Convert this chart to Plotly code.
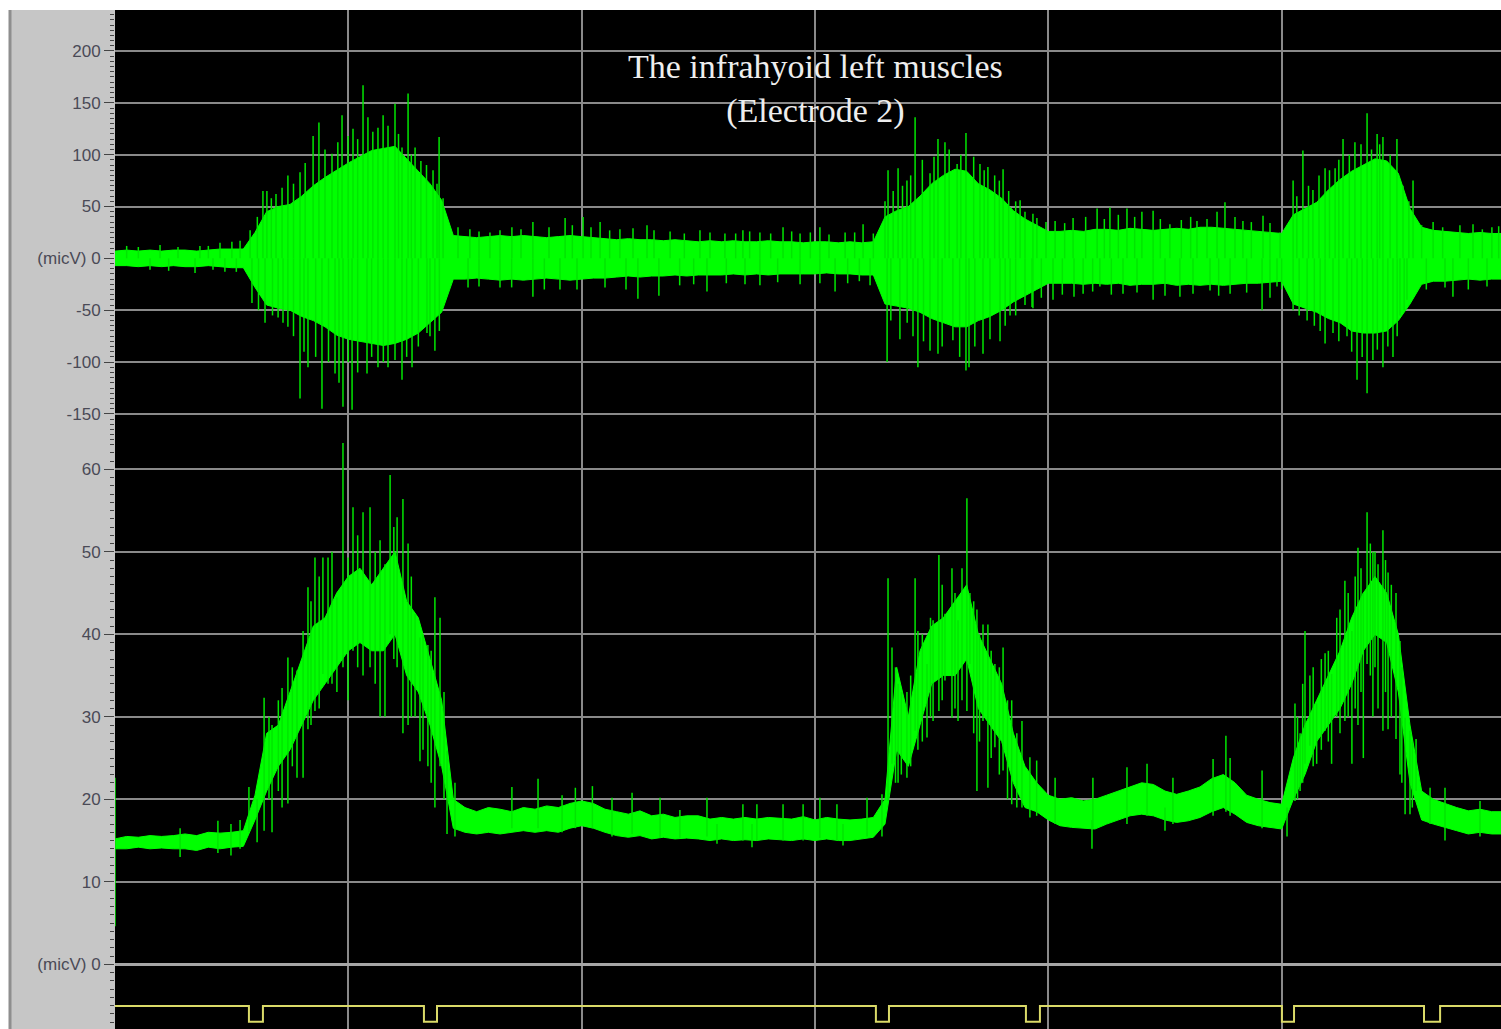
import numpy as np
import plotly.graph_objects as go

# ---------------- data ----------------
bin_step = 0.05  # seconds per envelope bin
n_bins = 120

# raw EMG (top panel): dense core band, upper/lower edge per bin (micV)
top_hi = [7, 8, 7, 8, 7, 8, 8, 7, 8, 9, 9, 9,
          25, 45, 50, 52, 60, 70, 78, 85, 92, 98, 104, 106, 108, 96, 84, 72, 56,
          22, 21, 20, 21, 22, 21, 22, 21, 20, 21,
          22, 21, 20, 19, 18, 19, 18, 18, 17, 18,
          17, 16, 17, 16, 17, 16, 16, 17, 16, 16,
          15, 16, 16, 15, 16, 15, 16,
          40, 46, 50, 60, 72, 80, 86, 84, 72, 66, 58, 46, 38, 32, 26,
          26, 27, 26, 28, 28, 27, 29, 28, 27, 28, 29, 28, 30, 30, 29, 28, 27, 26, 25, 24,
          42, 48, 54, 66, 76, 84, 90, 96, 94, 82, 48, 30, 27, 26, 25, 24, 25, 24, 24]
top_lo = [-7, -7, -8, -7, -8, -7, -8, -8, -7, -8, -9, -9,
          -28, -45, -48, -50, -56, -60, -66, -74, -78, -80, -82, -84, -82, -78, -72, -62, -52,
          -20, -20, -19, -20, -21, -20, -21, -20, -19, -20,
          -21, -20, -19, -19, -18, -17, -18, -17, -17, -16,
          -17, -16, -16, -16, -15, -16, -15, -16, -15, -15,
          -15, -15, -14, -15, -15, -16, -16,
          -44, -46, -48, -52, -58, -62, -66, -66, -60, -56, -50, -42, -36, -30, -24,
          -24, -24, -25, -24, -25, -24, -26, -25, -25, -24, -26, -25, -26, -25, -26, -25, -24, -24, -23, -22,
          -44, -48, -52, -58, -62, -70, -72, -72, -70, -60, -44, -25, -22, -22, -21, -20, -21, -20, -20]

# raw EMG individual spikes (time s, peak micV)
spike_t = [0.193, 0.364, 0.450, 0.501, 0.536, 0.343, 0.471,
           0.050, 0.100, 0.270, 0.400, 0.150, 0.230, 0.420, 0.520,
           0.579, 0.634, 0.651, 0.716, 0.741, 0.793, 0.849, 0.874, 0.930, 0.973, 0.999, 1.063,
           1.084, 1.127, 1.149, 1.200, 1.230, 1.256, 1.286, 1.311, 1.363, 1.389, 1.406,
           0.610, 0.670, 0.690, 0.765, 0.815, 0.900, 0.955, 1.020, 1.040, 1.105, 1.170, 1.215,
           1.270, 1.335, 1.380,
           0.587, 0.643, 0.699, 0.741, 0.793, 0.827, 0.887, 0.943, 0.977, 1.016, 1.080, 1.127,
           1.170, 1.230, 1.273, 1.337, 1.371,
           0.615, 0.675, 0.720, 0.765, 0.810, 0.860, 0.915, 0.960, 1.000, 1.040, 1.100, 1.150,
           1.200, 1.250, 1.300, 1.350, 1.390,
           1.521, 1.607, 1.701, 1.791, 1.929, 2.006, 2.079, 2.164, 2.280, 2.379, 2.507, 2.614,
           2.691, 2.764, 2.863, 2.936, 3.021, 3.129, 3.206,
           1.470, 1.560, 1.650, 1.740, 1.860, 1.960, 2.040, 2.120, 2.220, 2.310, 2.440, 2.550,
           2.660, 2.720, 2.810, 2.900, 2.980, 3.060, 3.170, 3.250,
           1.513, 1.650, 1.791, 1.907, 1.980, 2.241, 2.331, 2.537, 2.764, 2.936, 3.021, 3.086, 3.236,
           1.560, 1.700, 1.840, 2.100, 2.190, 2.420, 2.480, 2.620, 2.700, 2.840, 3.140, 3.190,
           3.313, 3.356, 3.394, 3.429, 3.493, 3.527, 3.557, 3.609, 3.647, 3.707, 3.741, 3.806, 3.879, 3.934,
           3.300, 3.335, 3.375, 3.410, 3.460, 3.510, 3.575, 3.625, 3.680, 3.725, 3.770, 3.790,
           3.830, 3.860, 3.900,
           3.309, 3.364, 3.441, 3.493, 3.527, 3.591, 3.647, 3.660, 3.720, 3.793, 3.836, 3.934,
           3.325, 3.395, 3.420, 3.465, 3.545, 3.620, 3.685, 3.750, 3.815, 3.860, 3.900,
           3.951, 4.029, 4.106, 4.209, 4.264, 4.337, 4.401, 4.449, 4.521, 4.637, 4.723, 4.757, 4.834, 4.920, 4.993,
           3.990, 4.070, 4.160, 4.240, 4.300, 4.370, 4.480, 4.570, 4.610, 4.680, 4.800, 4.870, 4.950,
           3.930, 4.020, 4.149, 4.221, 4.320, 4.449, 4.564, 4.693, 4.779, 4.916, 4.980,
           3.970, 4.060, 4.110, 4.190, 4.270, 4.380, 4.500, 4.620, 4.730, 4.850, 4.950, 5.000,
           5.049, 5.091, 5.134, 5.186, 5.229, 5.263, 5.314, 5.366, 5.409, 5.434, 5.494, 5.563, 5.649, 5.764, 5.901,
           5.065, 5.115, 5.160, 5.205, 5.245, 5.290, 5.340, 5.385, 5.420, 5.465, 5.520, 5.545,
           5.600, 5.690, 5.820, 5.860, 5.930,
           5.049, 5.109, 5.186, 5.220, 5.280, 5.323, 5.366, 5.391, 5.434, 5.477, 5.507, 5.537, 5.734,
           5.075, 5.140, 5.165, 5.245, 5.300, 5.345, 5.410, 5.455, 5.495, 5.525,
           5.620, 5.700, 5.800, 5.880]
spike_v = [13, 12, 15, 16, 17, -14, -13,
           12, 11, 11, 12, -11, -12, -11, -13,
           27, 65, 65, 68, 80, 83, 118, 131, 101, 138, 118, 167,
           136, 126, 138, 149, 107, 159, 107, 94, 85, 117, 58,
           40, 58, 62, 72, 92, 105, 112, 125, 115, 122, 128, 120,
           100, 90, 72,
           -43, -62, -57, -66, -135, -105, -145, -111, -143, -146, -111, -105,
           -105, -117, -105, -72, -89,
           -50, -55, -62, -75, -90, -95, -100, -120, -100, -110, -95, -100,
           -98, -95, -85, -75, -70,
           28, 25, 30, 35, 39, 40, 35, 28, 32, 26, 27, 24,
           27, 25, 30, 24, 30, 25, 33,
           30, 26, 27, 28, 30, 32, 30, 27, 29, 27, 24, 25,
           24, 26, 24, 26, 25, 23, 25, 24,
           -28, -28, -37, -30, -30, -39, -36, -32, -26, -25, -24, -32, -26,
           -27, -28, -30, -28, -30, -26, -25, -24, -25, -23, -24, -22,
           85, 87, 75, 136, 82, 115, 112, 91, 121, 91, 88, 86, 56, 43,
           55, 65, 70, 80, 95, 98, 105, 100, 98, 85, 80, 75,
           65, 55, 45,
           -100, -78, -105, -89, -92, -79, -108, -105, -92, -80, -55, -48,
           -60, -62, -75, -80, -85, -95, -85, -78, -65, -55, -45,
           39, 36, 39, 48, 49, 48, 45, 46, 33, 36, 45, 54, 36, 41, 25,
           35, 34, 40, 38, 42, 40, 38, 37, 40, 38, 40, 35, 34,
           -47, -40, -34, -27, -34, -40, -37, -31, -34, -50, -27,
           -38, -35, -37, -32, -35, -33, -36, -34, -36, -33, -38, -30,
           75, 104, 66, 87, 87, 115, 112, 140, 120, 117, 115, 75, 35, 32, 30,
           60, 70, 80, 85, 95, 100, 110, 105, 110, 100, 70, 55,
           32, 30, 33, 28, 31,
           -50, -60, -82, -72, -75, -117, -130, -98, -105, -95, -55, -40, -37,
           -55, -65, -70, -80, -90, -95, -88, -85, -75, -50,
           -30, -28, -30, -27]

# rectified / smoothed EMG (bottom panel): band edges per bin (micV)
bot_hi = [15.2, 15.5, 15.4, 15.6, 15.5, 15.6, 15.8, 15.6, 16.0, 15.9, 16.0, 16.2,
          20.5, 28, 29, 33, 37, 41, 42, 45, 47, 48, 46, 48, 50, 44, 42, 37, 32,
          20, 19, 18.5, 19, 18.8, 18.5, 19, 18.8, 19.2, 19,
          19.5, 19.8, 19.5, 18.8, 18.5, 18.2, 18.6, 18, 18.2, 17.8,
          18, 18, 17.6, 17.8, 17.6, 17.8, 17.6, 17.8, 17.7, 17.6,
          17.9, 17.5, 17.8, 17.6, 17.5, 17.6, 17.8,
          20, 36, 30, 38, 41, 42, 44, 46, 40, 37, 34, 28, 24, 22, 20.5,
          20, 20.2, 19.8, 20, 20.5, 21, 21.5, 22, 21.8, 21, 20.6, 21, 21.5, 22.5, 23, 22, 20.5, 20, 19.6, 19.4,
          25, 29, 32, 35, 38, 42, 45, 47, 45, 40, 29, 21, 20, 19.5, 19, 18.6, 18.8, 18.5, 18.5]
bot_lo = [14.0, 14.0, 14.2, 14.0, 14.1, 14.0, 14.0, 13.8, 14.2, 14.0, 14.2, 14.3,
          17.5, 21, 24, 26, 29, 32, 34, 36, 38, 39, 38, 38, 40, 35, 33, 29, 24,
          16.5, 16, 15.8, 16, 15.8, 16, 16.2, 16, 16.2, 16,
          16.5, 16.8, 16.5, 16, 15.6, 15.4, 15.6, 15.2, 15.4, 15.2,
          15.3, 15.2, 15, 15.2, 15, 15.1, 15, 15.2, 15.1, 15,
          15.2, 15, 15.2, 15, 15, 15.2, 15.4,
          17, 26, 24, 29, 34, 35, 35, 37, 31, 29, 27, 22, 19, 18.5, 17.5,
          16.8, 16.6, 16.5, 16.4, 17, 17.5, 18, 18.2, 18, 17.5, 17.2, 17.4, 17.8, 18.5, 19, 18.2, 17.2, 16.8, 16.6, 16.4,
          20, 23, 27, 29, 31, 34, 38, 40, 39, 33, 22, 17.5, 17, 16.6, 16.2, 15.8, 16, 15.8, 15.8]

# bottom panel individual strokes (time s, low, high)
stroke_t = [0.000, 0.279, 0.441, 0.497, 0.536, 0.574, 0.609, 0.639, 0.673, 0.716, 0.741, 0.780,
            0.806, 0.827, 0.857, 0.891, 0.913, 0.951, 0.977, 0.999, 1.020, 1.063, 1.093, 1.136,
            1.157, 1.179, 1.209, 1.234, 1.256, 1.286, 1.307, 1.341, 1.371, 1.393, 1.423, 1.457,
            0.660, 0.700, 0.760, 0.840, 0.875, 0.930, 1.040, 1.115, 1.195, 1.270, 1.320, 1.355, 1.410,
            1.701, 1.813, 1.916, 1.973, 2.046, 2.130, 2.216, 2.336, 2.421, 2.537, 2.580, 2.691,
            2.730, 2.751, 2.863, 2.949, 3.021, 3.094, 3.120, 3.223, 3.287,
            3.313, 3.330, 3.356, 3.394, 3.429, 3.441, 3.480, 3.506, 3.531, 3.557, 3.587, 3.613,
            3.651, 3.664, 3.694, 3.720, 3.741, 3.771, 3.806, 3.843, 3.887, 3.921, 3.950,
            3.345, 3.370, 3.410, 3.460, 3.495, 3.545, 3.600, 3.630, 3.680, 3.705, 3.755, 3.790,
            3.825, 3.865,
            4.029, 4.187, 4.191, 4.337, 4.423, 4.500, 4.534, 4.706, 4.761, 4.779, 4.916, 5.023,
            5.057, 5.079, 5.100, 5.121, 5.150, 5.186, 5.214, 5.236, 5.271, 5.301, 5.327, 5.350,
            5.366, 5.391, 5.413, 5.434, 5.456, 5.490, 5.507, 5.529, 5.550, 5.576, 5.636, 5.700, 5.850,
            5.068, 5.090, 5.135, 5.170, 5.200, 5.250, 5.285, 5.315, 5.340, 5.380, 5.400, 5.445,
            5.470, 5.515, 5.560]
stroke_lo = [4.6, 13.0, 13.5, 13.2, 14.0, 16.0, 14.8, 16.2, 16.0, 19.0, 19.5, 22.6,
             22.6, 28.5, 30.7, 35.2, 34.0, 33.0, 36.0, 32.0, 38.0, 35.0, 36.0, 30.0,
             30.0, 40.0, 36.0, 28.0, 29.0, 30.0, 24.6, 24.0, 19.0, 24.0, 15.8, 15.5,
             20, 21, 24, 29, 31, 34, 36, 34, 37, 30, 26, 22, 20,
             16.5, 16.5, 16.0, 16.5, 16.5, 15.5, 15.8, 15.3, 15.3, 15.5, 14.6, 15.0,
             14.2, 15.0, 15.0, 15.0, 15.3, 15.0, 14.4, 15.5, 15.5,
             19.8, 24.3, 22.0, 22.6, 28.3, 26.0, 27.5, 29.5, 30.7, 34.4, 29.9, 29.5,
             30.7, 36.4, 21.0, 29.5, 21.4, 26.3, 23.5, 19.4, 19.0, 17.8, 18.0,
             22, 23, 24, 27, 30, 32, 31, 32, 28, 27, 25, 23,
             20, 19,
             17.0, 14.0, 16.5, 17.0, 18.0, 16.2, 17.0, 18.0, 18.5, 18.0, 16.5, 15.5,
             19.8, 21.0, 24.3, 26.5, 24.3, 28.3, 24.3, 30.0, 29.5, 24.3, 29.0, 25.0,
             36.4, 30.0, 31.0, 28.3, 28.5, 27.3, 23.0, 18.2, 18.2, 21.0, 17.0, 15.0, 15.5,
             20, 22, 24, 26, 27, 28, 30, 31, 33, 35, 36, 33,
             30, 22, 19]
stroke_hi = [22.6, 16.5, 17.4, 17.0, 17.5, 21.5, 20.0, 32.3, 29.0, 33.5, 37.2, 35.6,
             40.4, 45.7, 49.3, 49.3, 49.3, 44.5, 63.2, 49.3, 55.4, 54.8, 55.4, 51.4,
             48.5, 59.3, 54.2, 56.4, 51.0, 42.5, 39.6, 38.7, 44.5, 42.0, 25.9, 22.0,
             30, 32, 36, 44, 47, 50, 52, 50, 53, 47, 40, 38, 33,
             21.5, 22.5, 20.5, 21.4, 21.6, 20.2, 20.8, 20.2, 18.7, 20.2, 17.0, 19.4,
             17.0, 19.4, 19.4, 19.4, 20.2, 19.4, 17.0, 20.2, 20.6,
             46.8, 38.4, 34.0, 33.0, 46.8, 40.4, 36.4, 41.7, 49.6, 42.5, 48.0, 41.7,
             56.5, 45.0, 43.0, 41.2, 41.2, 36.4, 38.4, 32.0, 29.5, 25.1, 24.7,
             36, 33, 35, 40, 42, 46, 45, 48, 44, 40, 38, 36,
             32, 28,
             22.6, 17.5, 22.6, 23.9, 24.3, 19.0, 22.6, 24.9, 27.7, 25.0, 23.5, 19.0,
             31.6, 28.0, 40.4, 35.0, 31.6, 37.7, 35.2, 42.0, 46.5, 40.4, 50.5, 45.0,
             54.8, 50.0, 48.5, 52.6, 47.5, 45.0, 39.2, 29.9, 28.3, 27.3, 21.4, 21.4, 19.8,
             30, 34, 36, 37, 38, 43, 45, 47, 48, 51, 50, 49,
             46, 36, 27]

# event marker channel: start / end of each pulse (s)
ev_start = [0.574, 1.324, 3.261, 3.904, 5.001, 5.610]
ev_end = [0.634, 1.380, 3.317, 3.964, 5.053, 5.679]

top_ticks = [200, 150, 100, 50, 0, -50, -100, -150]
top_labels = ["200", "150", "100", "50", "(micV) 0", "-50", "-100", "-150"]
bot_ticks = [60, 50, 40, 30, 20, 10, 0]
bot_labels = ["60", "50", "40", "30", "20", "10", "(micV) 0"]

title_text = "The infrahyoid left muscles<br>(Electrode 2)"

# ---------------- build ----------------
t_bins = np.arange(n_bins) * bin_step
GREEN = "#00ff00"
STROKE = "#00e600"
GRID = "#8a8a8a"
X_END = 5.94


def band(t, hi, lo):
    t = list(t)
    return t + t[::-1], list(hi) + list(lo)[::-1]


def strokes(ts, a, b):
    xs, ys = [], []
    for ti, ai, bi in zip(ts, a, b):
        xs += [ti, ti, None]
        ys += [ai, bi, None]
    return xs, ys


fig = go.Figure()

bx, by = band(t_bins, top_hi, top_lo)
fig.add_trace(go.Scatter(x=bx, y=by, fill="toself", fillcolor=GREEN, mode="lines",
                         line=dict(color=GREEN, width=1), hoverinfo="skip",
                         showlegend=False, xaxis="x", yaxis="y"))
sx, sy = strokes(spike_t, [0] * len(spike_t), spike_v)
fig.add_trace(go.Scatter(x=sx, y=sy, mode="lines", line=dict(color=STROKE, width=1.5),
                         hoverinfo="skip", showlegend=False, xaxis="x", yaxis="y"))

bx2, by2 = band(t_bins, bot_hi, bot_lo)
fig.add_trace(go.Scatter(x=bx2, y=by2, fill="toself", fillcolor=GREEN, mode="lines",
                         line=dict(color=GREEN, width=1), hoverinfo="skip",
                         showlegend=False, xaxis="x", yaxis="y2"))
kx, ky = strokes(stroke_t, stroke_lo, stroke_hi)
fig.add_trace(go.Scatter(x=kx, y=ky, mode="lines", line=dict(color=STROKE, width=1.5),
                         hoverinfo="skip", showlegend=False, xaxis="x", yaxis="y2"))

mx, my = [0.0], [1]
for s, e in zip(ev_start, ev_end):
    mx += [s, s, e, e]
    my += [1, 0, 0, 1]
mx.append(X_END)
my.append(1)
fig.add_trace(go.Scatter(x=mx, y=my, mode="lines", line=dict(color="#dada68", width=2),
                         hoverinfo="skip", showlegend=False, xaxis="x", yaxis="y3"))

# page geometry (body margin is removed below, so the figure fills the window)
W, H = 1501, 1029
ML, MT = 115, 10
PW, PH = W - ML, H - MT
split = (H - 441) / PH

tickfont = dict(family="Liberation Sans, Arial, sans-serif", size=17, color="#4a4a56")
common_y = dict(showgrid=True, gridcolor=GRID, gridwidth=2, ticks="outside", ticklen=10,
                tickwidth=1, tickcolor="#444444", tickfont=tickfont, showline=False,
                fixedrange=True)

fig.update_layout(
    width=W, height=H,
    margin=dict(l=ML, r=0, t=MT, b=0, pad=0),
    paper_bgcolor="#c6c6c6", plot_bgcolor="#000000",
    showlegend=False,
    xaxis=dict(range=[0, X_END], showgrid=True, gridcolor=GRID, gridwidth=2, dtick=1, tick0=0,
               showticklabels=False, ticks="", zeroline=False, showline=False, anchor="y2",
               fixedrange=True),
    yaxis=dict(domain=[split, 1], range=[-176.1, 239.5], tickvals=top_ticks, ticktext=top_labels,
               zeroline=False, minor=dict(dtick=5, ticks="outside", ticklen=4, tickcolor="#444444",
                                          showgrid=False), **common_y),
    yaxis2=dict(domain=[0, split], range=[-7.84, 63.43], tickvals=bot_ticks, ticktext=bot_labels,
                zeroline=True, zerolinecolor="#a6a6a6", zerolinewidth=3,
                minor=dict(dtick=1, ticks="outside", ticklen=4, tickcolor="#444444", showgrid=False),
                **common_y),
    yaxis3=dict(overlaying="y2", range=[-0.465, 36.99], visible=False, fixedrange=True),
)

# page frame: white strips on top / far left and the dark separator of the grey panel
fig.add_shape(type="rect", xref="paper", yref="paper", x0=-ML / PW, x1=1, y0=1, y1=1 + MT / PH,
              fillcolor="white", line=dict(width=0), layer="above")
fig.add_shape(type="rect", xref="paper", yref="paper", x0=-ML / PW, x1=(9 - ML) / PW,
              y0=0, y1=1, fillcolor="white", line=dict(width=0), layer="above")
fig.add_shape(type="line", xref="paper", yref="paper", x0=(10 - ML) / PW,
              x1=(10 - ML) / PW, y0=0, y1=1,
              line=dict(color="#8e8e8e", width=3), layer="above")

title_font = dict(family="Liberation Serif, Times New Roman, serif", size=34, color="#eeeeee")
fig.add_annotation(text=title_text, xref="paper", yref="paper", x=(815 - ML) / PW,
                   y=(H - 88.5) / PH, xanchor="center", yanchor="middle", showarrow=False,
                   font=title_font)

fig.write_html("out.html", config={"displayModeBar": False},
               post_script="document.body.style.margin='0';"
                           "document.body.style.overflow='hidden';")
